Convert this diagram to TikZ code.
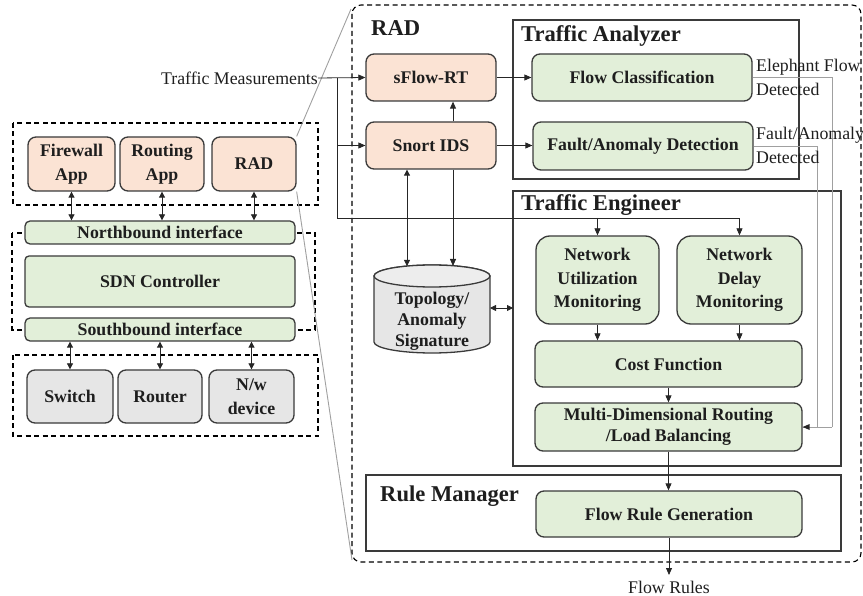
\documentclass[tikz,border=0pt]{standalone}
\usepackage{fontspec}
\setmainfont{Liberation Serif}
\usetikzlibrary{arrows.meta,positioning}
\definecolor{peach}{HTML}{FBE3D4}
\definecolor{lgreen}{HTML}{E2EFD9}
\definecolor{lgray}{HTML}{E6E6E6}
\definecolor{edge}{HTML}{3A3A3A}
\definecolor{txt}{HTML}{1E1E1E}
\definecolor{zoomgray}{HTML}{A0A0A0}
\begin{document}
\begin{tikzpicture}[x=1pt,y=-1pt,
  every node/.style={text=txt},
  box/.style={draw=edge, line width=1.3pt, rounded corners=8pt, align=center,
    font=\fontsize{17.8}{23.5}\selectfont\bfseries, inner sep=0pt},
  pbox/.style={box, fill=peach},
  gbox/.style={box, fill=lgreen},
  dbox/.style={box, fill=lgray},
  frame/.style={draw=edge, line width=1.3pt},
  dframe/.style={draw=black, line width=1.1pt, dash pattern=on 5pt off 3.5pt},
  title/.style={font=\fontsize{22.6}{26}\selectfont\bfseries, anchor=west, inner sep=0pt},
  lbl/.style={font=\fontsize{17.8}{20}\selectfont, inner sep=0pt},
  conn/.style={draw=black!85, line width=0.8pt, -{Triangle[length=7pt,width=6pt]}},
  dconn/.style={draw=black!85, line width=0.8pt, {Triangle[length=6pt,width=6pt]}-{Triangle[length=6pt,width=6pt]}},
  plain/.style={draw=black!85, line width=0.8pt},
  gline/.style={draw=zoomgray, line width=0.9pt},
]
\useasboundingbox (0,0) rectangle (863,596);

% ---------------- left panel ----------------
\draw[dframe] (13,123) rectangle (318,205);
\draw[dframe] (12,233) rectangle (315,330);
\draw[dframe] (13,355) rectangle (318,436);

\node[pbox, minimum width=87, minimum height=54] (fw) at (71.5,164) {Firewall\\App};
\node[pbox, minimum width=84, minimum height=54] (ra) at (162,164) {Routing\\App};
\node[pbox, minimum width=84, minimum height=54] (rad) at (254,164) {RAD};

\node[gbox, minimum width=270, minimum height=23, rounded corners=5pt] (nb) at (160,232.5) {Northbound interface};
\node[gbox, minimum width=270, minimum height=51, rounded corners=4pt] (sdn) at (160,281.5) {SDN Controller};
\node[gbox, minimum width=270, minimum height=23, rounded corners=5pt] (sb) at (160,329.5) {Southbound interface};

\node[dbox, minimum width=86, minimum height=53] (sw) at (70,396.5) {Switch};
\node[dbox, minimum width=84, minimum height=53] (rt) at (160,396.5) {Router};
\node[dbox, minimum width=85, minimum height=53] (nw) at (251.5,396.5) {N/w\\device};

\draw[dconn] (fw.south) -- (fw.south |- nb.north);
\draw[dconn] (ra.south) -- (ra.south |- nb.north);
\draw[dconn] (rad.south) -- (rad.south |- nb.north);
\draw[dconn] (sw.north |- sb.south) -- (sw.north);
\draw[dconn] (rt.north |- sb.south) -- (rt.north);
\draw[dconn] (nw.north |- sb.south) -- (nw.north);

% ---------------- zoom lines and RAD frame ----------------
\coordinate (bigTL) at (351,9);
\coordinate (bigBL) at (352,560);
\draw[gline] (rad.north east) -- (bigTL);
\draw[gline] (rad.south east) -- (bigBL);
\draw[dframe, rounded corners=9pt] (352,5) rectangle (861,562);
\node[title] (radtitle) at (371,28) {RAD};

% ---------------- Traffic Analyzer ----------------
\draw[frame] (513,20) rectangle (799,179);
\node[title] (tatitle) at (521,36) {Traffic Analyzer};
\node[pbox, minimum width=130, minimum height=47] (sflow) at (431,77.5) {sFlow-RT};
\node[pbox, minimum width=130, minimum height=47] (snort) at (431,145.5) {Snort IDS};
\node[gbox, minimum width=220, minimum height=47] (fc) at (642,77.5) {Flow Classification};
\node[gbox, minimum width=220, minimum height=48] (fad) at (643,146) {Fault/Anomaly Detection};

% ---------------- Traffic Engineer ----------------
\draw[frame] (513,191) rectangle (841,466);
\node[title] (tetitle) at (521,205) {Traffic Engineer};
\node[gbox, minimum width=123, minimum height=88, rounded corners=14pt] (num) at (597.5,280) {Network\\Utilization\\Monitoring};
\node[gbox, minimum width=125, minimum height=88, rounded corners=14pt] (ndm) at (739.5,280) {Network\\Delay\\Monitoring};
\node[gbox, minimum width=267, minimum height=46] (cf) at (668.5,364) {Cost Function};
\node[gbox, minimum width=267, minimum height=48, font=\fontsize{17.8}{21}\selectfont\bfseries] (mdr) at (668.5,427) {Multi-Dimensional Routing\\/Load Balancing};

% ---------------- Rule Manager ----------------
\draw[frame] (366,475) rectangle (841,551);
\node[title] (rmtitle) at (380,496) {Rule Manager};
\node[gbox, minimum width=266, minimum height=46] (frg) at (669,514) {Flow Rule Generation};
\node[lbl] (fr) at (669,587) {Flow Rules};

% ---------------- database ----------------
\node[minimum width=116, minimum height=88, inner sep=0pt] (db) at (432,309) {};
\draw[draw=edge, line width=1.3pt, fill=lgray]
  (374,276) -- (374,342) arc[start angle=180, end angle=0, x radius=58, y radius=11]
  -- (490,276) arc[start angle=0, end angle=-180, x radius=58, y radius=11] -- cycle;
\draw[draw=edge, line width=1.3pt, fill=lgray!70!white] (432,276) ellipse[x radius=58, y radius=11];
\node[align=center, font=\fontsize{17.8}{21}\selectfont\bfseries, inner sep=0pt] (dbtext) at (432,321) {Topology/\\Anomaly\\Signature};
\coordinate (dbt1) at (407,266);
\coordinate (dbt2) at (453,266);
\coordinate (dbr) at (490,308);

% ---------------- connectors ----------------
\node[lbl, anchor=east] (tm) at (318,78) {Traffic Measurements};
\coordinate (j1) at (337,78);
\coordinate (j2) at (337,218);
\draw[conn] (tm.east) -- (sflow.west);
\draw[conn] (j1) |- (snort.west);
\draw[conn] (j1) -- (j2) -| (ndm.north);
\draw[conn] (num.north |- j2) -- (num.north);

\draw[conn] (sflow.east) -- (fc.west);
\draw[conn] (snort.east) -- (snort.east -| fad.west);
\draw[conn] ([xshift=22pt]snort.north) -- ([xshift=22pt]sflow.south);
\draw[dconn] (dbt1 |- snort.south) -- (dbt1);
\draw[conn] (dbt2 |- snort.south) -- (dbt2);
\draw[dconn] (dbr) -- (dbr -| 513,0);

\draw[conn] (num.south) -- (num.south |- cf.north);
\draw[conn] (ndm.south) -- (ndm.south |- cf.north);
\draw[conn] (cf.south) -- (cf.south |- mdr.north);
\draw[conn] (mdr.south) -- (mdr.south |- frg.north);
\coordinate (frend) at (669,575);
\draw[conn] (frg.south) -- (frend);

% detected signals
\draw[gline] (fc.east) -- (832,77.5) -- (832,427);
\draw[gline] (fad.east) -- (817,146) -- (817,427);
\draw[gline] (832,427) -- (mdr.east);
\fill[black!85] (mdr.east) -- ++(7,-3) -- ++(0,6) -- cycle;

\node[lbl, anchor=west] (ef) at (756,67) {Elephant Flow};
\node[lbl, anchor=west] (efd) at (756,89) {Detected};
\node[lbl, anchor=west] (fa) at (756,135) {Fault/Anomaly};
\node[lbl, anchor=west] (fad2) at (756,157) {Detected};
\end{tikzpicture}
\end{document}
